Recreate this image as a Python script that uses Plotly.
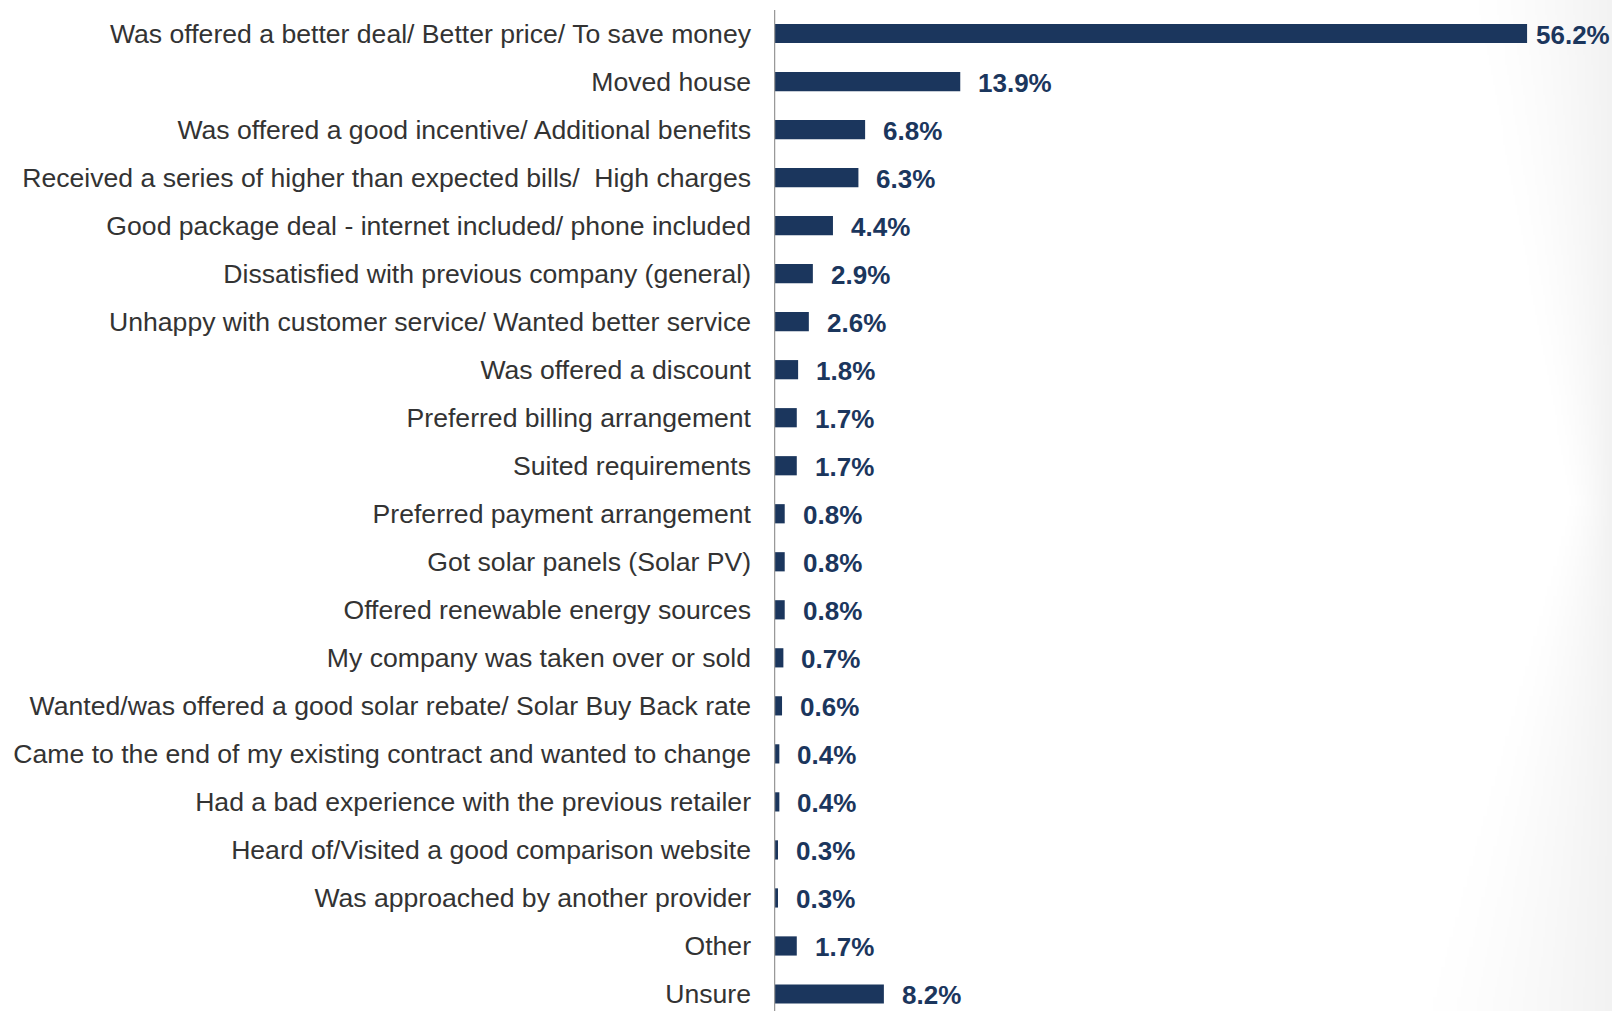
import base64
import struct
import zlib

import plotly.graph_objects as go

reasons = [
    "Was offered a better deal/ Better price/ To save money",
    "Moved house",
    "Was offered a good incentive/ Additional benefits",
    "Received a series of higher than expected bills/  High charges",
    "Good package deal - internet included/ phone included",
    "Dissatisfied with previous company (general)",
    "Unhappy with customer service/ Wanted better service",
    "Was offered a discount",
    "Preferred billing arrangement",
    "Suited requirements",
    "Preferred payment arrangement",
    "Got solar panels (Solar PV)",
    "Offered renewable energy sources",
    "My company was taken over or sold",
    "Wanted/was offered a good solar rebate/ Solar Buy Back rate",
    "Came to the end of my existing contract and wanted to change",
    "Had a bad experience with the previous retailer",
    "Heard of/Visited a good comparison website",
    "Was approached by another provider",
    "Other",
    "Unsure",
]
shares = [56.2, 13.9, 6.8, 6.3, 4.4, 2.9, 2.6, 1.8, 1.7, 1.7,
          0.8, 0.8, 0.8, 0.7, 0.6, 0.4, 0.4, 0.3, 0.3, 1.7, 8.2]

BAR = "#1b365d"
W, H = 1612, 1011
LEFT = 774
PX_PER_PCT = 13.4
XMAX = (W - LEFT) / PX_PER_PCT
FONT = "Liberation Sans, Arial, sans-serif"


def shade_png(w, h):
    """Soft grey shading towards the right edge of the slide, as a PNG data URI."""
    rows = []
    for j in range(h):
        fy = j / (h - 1)
        # where the shading begins (fraction of the strip width) along the height
        if fy < 0.5:
            start = 0.30 + (0.80 - 0.30) * (fy / 0.5)
        else:
            start = 0.80 + (0.05 - 0.80) * ((fy - 0.5) / 0.5)
        row = bytearray([0])
        for i in range(w):
            fx = i / (w - 1)
            t = 0.0 if fx <= start else ((fx - start) / (1 - start)) ** 1.5
            g = int(round(255 - 13 * t))
            row += bytes([g, g, g])
        rows.append(bytes(row))
    raw = b"".join(rows)

    def chunk(tag, data):
        c = struct.pack(">I", len(data)) + tag + data
        return c + struct.pack(">I", zlib.crc32(tag + data) & 0xFFFFFFFF)

    png = b"\x89PNG\r\n\x1a\n"
    png += chunk(b"IHDR", struct.pack(">IIBBBBB", w, h, 8, 2, 0, 0, 0))
    png += chunk(b"IDAT", zlib.compress(raw, 9))
    png += chunk(b"IEND", b"")
    return "data:image/png;base64," + base64.b64encode(png).decode()


fig = go.Figure()
fig.add_trace(go.Bar(
    x=shares,
    y=reasons,
    orientation="h",
    marker=dict(color=BAR, line=dict(width=0)),
    width=0.4,
    hoverinfo="skip",
))

for r, v in zip(reasons, shares):
    end_px = v * PX_PER_PCT
    shift = 16 if end_px + 16 + 76 < W - LEFT else 7
    fig.add_annotation(
        x=v, y=r, xref="x", yref="y",
        text=f"{v:.1f}%", showarrow=False,
        xanchor="left", yanchor="middle", xshift=shift, yshift=-1,
        font=dict(family=FONT, size=26, color=BAR, weight="bold"),
    )

n = len(reasons)
fig.add_shape(type="line", xref="x", yref="y",
              x0=0, x1=0, y0=-0.49, y1=n + 1,
              line=dict(color="#999999", width=2.5), layer="above")

strip_x0 = 1400
fig.add_layout_image(
    source=shade_png(106, 101),
    xref="paper", yref="paper",
    x=(strip_x0 - LEFT) / (W - LEFT), y=1,
    sizex=(W - strip_x0) / (W - LEFT), sizey=1,
    xanchor="left", yanchor="top",
    sizing="stretch", layer="below",
)

fig.update_layout(
    width=W, height=H,
    margin=dict(l=LEFT, r=0, t=0, b=0),
    paper_bgcolor="white", plot_bgcolor="rgba(0,0,0,0)",
    showlegend=False,
    font=dict(family=FONT, size=26.6, color="#333333"),
    xaxis=dict(range=[0, XMAX], visible=False, fixedrange=True),
    yaxis=dict(
        categoryorder="array", categoryarray=reasons,
        range=[20 + (H - 994) / 48.0, -33.5 / 48.0],
        showgrid=False, zeroline=False, showline=False,
        ticks="", ticklabelstandoff=22,
        tickfont=dict(size=26.6, color="#333333"),
        fixedrange=True,
    ),
)

fig.write_html("out.html")
